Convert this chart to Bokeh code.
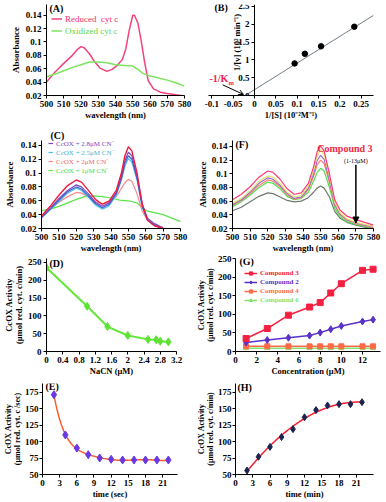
import numpy as np
from math import pi
from bokeh.plotting import figure
from bokeh.layouts import column, row
from bokeh.models import (Range1d, FixedTicker, Label, Legend, LegendItem, Arrow,
                          OpenHead, NormalHead, Title)
from bokeh.core.properties import value
from bokeh.embed import file_html
from bokeh.resources import INLINE

FONT = "Liberation Serif"

# ---------------- data ----------------
# (A) cytochrome c spectra
a_red_wl = [500, 505, 510, 515, 518, 520, 522, 525, 528, 531, 535, 538, 541, 544, 546, 548, 550, 551, 553, 555, 557, 559, 562, 566, 570, 575, 578]
a_red_abs = [0.040, 0.055, 0.068, 0.080, 0.089, 0.093, 0.091, 0.082, 0.070, 0.061, 0.056, 0.059, 0.065, 0.074, 0.090, 0.118, 0.140, 0.140, 0.128, 0.100, 0.068, 0.042, 0.030, 0.025, 0.023, 0.021, 0.020]
a_ox_wl = [500, 505, 510, 515, 520, 525, 530, 535, 540, 545, 550, 553, 556, 560, 565, 570, 575, 580]
a_ox_abs = [0.048, 0.052, 0.057, 0.062, 0.066, 0.070, 0.070, 0.069, 0.066, 0.065, 0.064, 0.059, 0.053, 0.049, 0.046, 0.043, 0.039, 0.034]

# (B) Lineweaver-Burk
b_inv_s = [0.094, 0.118, 0.156, 0.234]
b_inv_v = [0.90, 1.17, 1.38, 1.93]
b_fit_x = [-0.022, 0.279]
b_fit_y = [0.0, 2.25]

# (C) CcOX + cyanide spectra
c_wl = [500, 505, 510, 515, 520, 523, 527, 531, 535, 539, 543, 546, 548, 550, 552, 555, 558, 561, 565, 570]
c_red = [0.038, 0.052, 0.068, 0.082, 0.090, 0.087, 0.075, 0.062, 0.055, 0.060, 0.075, 0.100, 0.125, 0.138, 0.132, 0.100, 0.055, 0.032, 0.024, 0.020]
c_28 = [0.036, 0.049, 0.063, 0.075, 0.083, 0.080, 0.070, 0.058, 0.052, 0.057, 0.072, 0.095, 0.118, 0.130, 0.125, 0.095, 0.055, 0.035, 0.027, 0.021]
c_blue = [0.036, 0.048, 0.061, 0.073, 0.080, 0.077, 0.067, 0.056, 0.050, 0.055, 0.070, 0.092, 0.114, 0.125, 0.120, 0.092, 0.052, 0.033, 0.025, 0.020]
c_25 = [0.035, 0.047, 0.059, 0.071, 0.078, 0.075, 0.065, 0.054, 0.048, 0.053, 0.068, 0.090, 0.110, 0.121, 0.116, 0.090, 0.050, 0.032, 0.024, 0.020]
c_20 = [0.037, 0.048, 0.058, 0.066, 0.072, 0.071, 0.066, 0.059, 0.055, 0.058, 0.066, 0.078, 0.086, 0.091, 0.088, 0.070, 0.045, 0.032, 0.025, 0.021]
c1_wl = [500, 505, 510, 515, 520, 525, 530, 535, 540, 545, 550, 555, 558, 561, 565, 570, 575, 580]
c_10 = [0.046, 0.048, 0.052, 0.057, 0.062, 0.066, 0.067, 0.066, 0.064, 0.061, 0.060, 0.057, 0.050, 0.045, 0.043, 0.040, 0.035, 0.030]
c_labels = ["CcOX + 2.8\u03bcM CN\u207b", "CcOX + 2.5\u03bcM CN\u207b", "CcOX + 2\u03bcM CN\u207b", "CcOX + 1\u03bcM CN\u207b"]

# (D) NaCN inhibition
d_nacn = [0, 1, 1.5, 2, 2.5, 2.7, 2.8, 3]
d_act = [235, 127, 70, 45, 34, 33, 29, 27]

# (E) activity vs time (sec)
e_time = [2, 4, 6, 8, 10, 12, 14, 16, 18, 20, 22]
e_act = [171, 110, 90, 80, 75, 73, 72, 72, 72, 72, 72]

# (F) compound 3 spectra (1-13 uM)
f_wl = [500, 505, 510, 515, 520, 523, 527, 531, 535, 539, 543, 546, 548, 550, 552, 555, 558, 561, 565, 570, 575, 580]
f_s1 = [0.062, 0.070, 0.081, 0.095, 0.104, 0.102, 0.092, 0.078, 0.070, 0.072, 0.086, 0.110, 0.132, 0.141, 0.133, 0.100, 0.062, 0.047, 0.038, 0.033, 0.029, 0.025]
f_s2 = [0.057, 0.064, 0.075, 0.089, 0.097, 0.095, 0.086, 0.073, 0.066, 0.068, 0.082, 0.105, 0.126, 0.135, 0.128, 0.096, 0.058, 0.043, 0.034, 0.029, 0.026, 0.023]
f_s3 = [0.055, 0.062, 0.073, 0.086, 0.094, 0.092, 0.083, 0.071, 0.064, 0.066, 0.079, 0.100, 0.119, 0.127, 0.121, 0.091, 0.056, 0.041, 0.033, 0.028, 0.025, 0.022]
f_s4 = [0.054, 0.061, 0.071, 0.083, 0.091, 0.089, 0.081, 0.069, 0.063, 0.065, 0.077, 0.096, 0.113, 0.120, 0.115, 0.087, 0.054, 0.040, 0.032, 0.027, 0.024, 0.021]
f_s5 = [0.052, 0.059, 0.069, 0.080, 0.088, 0.086, 0.078, 0.067, 0.062, 0.064, 0.073, 0.089, 0.102, 0.108, 0.104, 0.080, 0.050, 0.037, 0.030, 0.026, 0.023, 0.020]
f_s6 = [0.046, 0.051, 0.059, 0.067, 0.072, 0.071, 0.066, 0.061, 0.059, 0.060, 0.065, 0.073, 0.079, 0.082, 0.079, 0.066, 0.045, 0.035, 0.029, 0.025, 0.022, 0.020]

# (G) activity vs concentration
g_conc = [1, 3, 5, 7, 8, 9, 10, 12, 13]
g_comp3 = [35, 62, 98, 120, 132, 158, 183, 219, 222]
g_comp2 = [24, 31, 37, 43, 51, 60, 69, 81, 86]
g_comp4 = [14, 14, 14, 14, 14, 14, 14, 14, 14]
g_comp6 = [9, 9, 9, 9, 9, 9, 9, 9, 9]

# (H) activity vs time (min)
h_time = [2, 4, 6, 8, 10, 12, 14, 16, 18, 20, 22]
h_act = [56, 77, 92, 107, 119, 137, 148, 155, 157, 157, 160]

# tick values and labels
wl_ticks = [500, 510, 520, 530, 540, 550, 560, 570, 580]
wl_labels = ["500", "510", "520", "530", "540", "550", "560", "570", "580"]
abs_ticks = [0.02, 0.04, 0.06, 0.08, 0.1, 0.12, 0.14]
abs_labels = ["0.02", "0.04", "0.06", "0.08", "0.1", "0.12", "0.14"]
b_xticks = [-0.1, -0.05, 0, 0.05, 0.1, 0.15, 0.2, 0.25]
b_xlabels = ["-0.1", "-0.05", "0", "0.05", "0.1", "0.15", "0.2", "0.25"]
b_yticks = [0, 0.5, 1, 1.5, 2, 2.5]
b_ylabels = ["0", "0.5", "1", "1.5", "2", "2.5"]
d_xticks = [0, 0.4, 0.8, 1.2, 1.6, 2, 2.4, 2.8, 3.2]
d_xlabels = ["0", "0.4", "0.8", "1.2", "1.6", "2", "2.4", "2.8", "3.2"]
act_ticks = [0, 50, 100, 150, 200, 250]
act_labels = ["0", "50", "100", "150", "200", "250"]
g_xticks = [0, 2, 4, 6, 8, 10, 12]
g_xlabels = ["0", "2", "4", "6", "8", "10", "12"]
t_ticks = [0, 3, 6, 9, 12, 15, 18, 21]
t_labels = ["0", "3", "6", "9", "12", "15", "18", "21"]
t_yticks = [50, 75, 100, 125, 150, 175]
t_ylabels = ["50", "75", "100", "125", "150", "175"]


# ---------------- helpers ----------------
def make_fig(w, h, l, r, t, b, xr, yr):
    p = figure(width=w, height=h, x_range=Range1d(*xr), y_range=Range1d(*yr),
               output_backend="svg", toolbar_location=None, title=None,
               min_border_left=l, min_border_right=r, min_border_top=t, min_border_bottom=b)
    p.outline_line_color = None
    p.xgrid.visible = False
    p.ygrid.visible = False
    return p, w - l - r, h - t - b


def style_axes(p, xt, xl, yt, yl, xlabel=None, ylabel=None, xstand=0, ystand=2, ylabel_size="8.5px"):
    for ax, ticks, labels in ((p.xaxis[0], xt, xl), (p.yaxis[0], yt, yl)):
        ax.ticker = FixedTicker(ticks=ticks, minor_ticks=[])
        ax.major_label_overrides = {tk: lb for tk, lb in zip(ticks, labels)}
        ax.major_label_text_font = FONT
        ax.major_label_text_font_style = "bold"
        ax.major_label_text_font_size = "9px"
        ax.major_label_text_color = "black"
        ax.axis_line_color = "black"
        ax.major_tick_line_color = "black"
        ax.major_tick_out = 3
        ax.major_tick_in = 0
        ax.minor_tick_line_color = None
        ax.major_label_standoff = 2
        ax.axis_label_text_font = FONT
        ax.axis_label_text_font_style = "bold"
        ax.axis_label_text_color = "black"
    if xlabel is not None:
        p.xaxis[0].axis_label = xlabel
        p.xaxis[0].axis_label_standoff = xstand
        p.xaxis[0].axis_label_text_font_size = "8.5px"
    if ylabel is not None:
        p.yaxis[0].axis_label = ylabel
        p.yaxis[0].axis_label_standoff = ystand
        p.yaxis[0].axis_label_text_font_size = ylabel_size
        p.yaxis[0].axis_label_text_line_height = 1.0


def txt(p, x, y, text, size="8.5px", color="black", angle=0.0, align="center",
        baseline="middle", style="bold", units="screen"):
    p.add_layout(Label(x=x, y=y, x_units=units, y_units=units, text=text, angle=angle,
                       text_align=align, text_baseline=baseline, text_font=FONT,
                       text_font_size=size, text_font_style=style, text_color=color))


def panel_title(p, fh, x, text):
    txt(p, x, fh, text, "10px", align="left", baseline="top")


def legend(p, renderers, label, color, x, y, size, glyph_w, style="normal", gh=8):
    p.add_layout(Legend(items=[LegendItem(label=value(label), renderers=renderers)],
                        location=(x, y), padding=0, margin=0, spacing=0,
                        border_line_color=None, background_fill_alpha=0,
                        label_text_font=FONT, label_text_font_size=size,
                        label_text_font_style=style, label_text_color=color,
                        glyph_width=glyph_w, glyph_height=gh, label_height=gh,
                        label_standoff=3))


W1, W2 = 193, 192

# ---------------- (A) ----------------
pA, fw, fh = make_fig(W1, 122, 46, 9, 4, 25, (500, 580), (0.02, 0.156))
style_axes(pA, wl_ticks, wl_labels, abs_ticks, abs_labels,
           xlabel="wavelength (nm)", ylabel="Absorbance", ystand=2, ylabel_size="9px")
rA1 = pA.line(a_red_wl, a_red_abs, line_color="#f4437a", line_width=1.5)
rA2 = pA.line(a_ox_wl, a_ox_abs, line_color="#7ee35e", line_width=1.5)
legend(pA, [rA1], "Reduced  cyt c", "#f4306a", 5, 71.5, "9px", 11, gh=9)
legend(pA, [rA2], "Oxidized cyt c", "#5fd640", 5, 59.5, "9px", 11, gh=9)
panel_title(pA, fh, 3, "(A)")

# ---------------- (B) ----------------
pB, fw, fh = make_fig(W2, 122, 15, 12, 3, 25, (-0.108, 0.279), (0, 2.554))
style_axes(pB, b_xticks, b_xlabels, b_yticks, b_ylabels, xlabel="1/[S] (10\u207b\u00b2M\u207b\u00b9)")
pB.yaxis.fixed_location = 0
pB.line(b_fit_x, b_fit_y, line_color="#6f7f86", line_width=1)
pB.scatter(b_inv_s, b_inv_v, marker="circle", size=5.5, color="black")
panel_title(pB, fh, 6, "(B)")
txt(pB, 28, fh - 41, "1/[v] (10\u00b2 min\u207b\u00b9)", "8.5px", angle=pi / 2)
txt(pB, 1, 17, "-1/K", "10px", color="#f2204e", align="left")
txt(pB, 20, 13.5, "m", "6.5px", color="#f2204e", align="left")
pB.add_layout(Arrow(end=OpenHead(size=5, line_color="black", line_width=1),
                    x_start=-0.075, y_start=0.30, x_end=-0.026, y_end=0.03,
                    line_color="black", line_width=1))

# ---------------- (C) ----------------
pC, fw, fh = make_fig(W1, 133, 41, 13, 18, 26, (500, 580), (0.02, 0.147))
style_axes(pC, wl_ticks, wl_labels, abs_ticks, abs_labels,
           xlabel="wavelength (nm)", ylabel="Absorbance", ystand=3, ylabel_size="9px")
rC10 = pC.line(c1_wl, c_10, line_color="#5be34a", line_width=1.2)
rC20 = pC.line(c_wl, c_20, line_color="#f58a8e", line_width=1.2)
rC25 = pC.line(c_wl, c_25, line_color="#4fc3e0", line_width=1.2)
pC.line(c_wl, c_blue, line_color="#3d5fcf", line_width=1.2)
rC28 = pC.line(c_wl, c_28, line_color="#7a46bd", line_width=1.2)
pC.line(c_wl, c_red, line_color="#ee1c40", line_width=1.4)
legend(pC, [rC28], c_labels[0], "#7a46bd", 7, 80.5, "7px", 5)
legend(pC, [rC25], c_labels[1], "#38b8d6", 7, 71.5, "7px", 5)
legend(pC, [rC20], c_labels[2], "#f26a60", 7, 62.5, "7px", 5)
legend(pC, [rC10], c_labels[3], "#45dc3c", 7, 53.5, "7px", 5)
pC.title = Title(text="(C)", align="left", offset=9, standoff=0, text_font=FONT,
                 text_font_size="10px", text_font_style="bold", text_color="black")

# ---------------- (F) ----------------
pF, fw, fh = make_fig(W2, 133, 39, 12, 16, 27, (500, 580), (0.02, 0.1486))
style_axes(pF, wl_ticks, wl_labels, abs_ticks, abs_labels,
           xlabel="wavelength (nm)", ylabel="Absorbance", ystand=1, ylabel_size="9px")
f_colors = ["#707a70", "#4fe34f", "#ff7f6e", "#9a68d6", "#e0e46a", "#ff3a78"]
for ys, col in zip([f_s6, f_s5, f_s4, f_s3, f_s2, f_s1], f_colors):
    pF.line(f_wl, ys, line_color=col, line_width=1.2)
txt(pF, 579.5, 0.137, "Compound 3", "10px", color="#ec2847", units="data", align="right")
txt(pF, 570, 0.1186, "(1-13\u03bcM)", "6px", units="data", style="normal")
pF.add_layout(Arrow(end=NormalHead(size=6, fill_color="black", line_color="black"),
                    x_start=570, y_start=0.113, x_end=570, y_end=0.028,
                    line_color="black", line_width=1.5))
panel_title(pF, fh, 3, "(F)")

# ---------------- (D) ----------------
pD, fw, fh = make_fig(W1, 123, 42, 17, 3, 26, (0, 3.2), (0, 261))
style_axes(pD, d_xticks, d_xlabels, act_ticks, act_labels, xlabel="NaCN (\u03bcM)",
           ylabel="CcOX Activity\n(\u03bcmol red. cyt. c/min)", ystand=1)
pD.line(d_nacn, d_act, line_color="#62e83a", line_width=2)
pD.scatter(d_nacn, d_act, marker="diamond", size=8, color="#5ee236")
panel_title(pD, fh, 3, "(D)")

# ---------------- (G) ----------------
pG, fw, fh = make_fig(W2, 123, 35, 5, 2, 25, (0, 13.7), (0, 251))
style_axes(pG, g_xticks, g_xlabels, act_ticks, act_labels, xlabel="Concentration (\u03bcM)",
           ylabel="CcOX Activity\n(\u03bcmol red. cyt. c/min)", ystand=0, ylabel_size="8px")
pG.yaxis[0].major_label_standoff = 1
g_specs = [(g_comp6, "#86e070", "triangle", 5, "Compound 6"),
           (g_comp4, "#ff6a48", "square", 5, "Compound 4"),
           (g_comp2, "#5a32c8", "diamond", 7, "Compound 2"),
           (g_comp3, "#f42040", "square", 6, "Compound 3")]
g_rend = {}
for ys, col, mk, sz, lab in g_specs:
    l1 = pG.line(g_conc, ys, line_color=col, line_width=1.5)
    s1 = pG.scatter(g_conc, ys, marker=mk, size=sz, color=col)
    g_rend[lab] = [l1, s1]
legend(pG, g_rend["Compound 3"], "Compound 3", "#f42040", 9, 74, "7px", 13, style="bold")
legend(pG, g_rend["Compound 2"], "Compound 2", "#5a32c8", 9, 65, "7px", 13, style="bold")
legend(pG, g_rend["Compound 4"], "Compound 4", "#ff6a48", 9, 56, "7px", 13, style="bold")
legend(pG, g_rend["Compound 6"], "Compound 6", "#86e070", 9, 47.5, "7px", 13, style="bold")
panel_title(pG, fh, 4, "(G)")

# ---------------- (E) ----------------
pE, fw, fh = make_fig(W1, 123, 40, 16, 5, 24, (0, 23.6), (50, 188))
style_axes(pE, t_ticks, t_labels, t_yticks, t_ylabels, xlabel="time (sec)",
           ylabel="CcOX Activity\n(\u03bcmol red. cyt. c /sec)", ystand=0, ylabel_size="8px")
pE.yaxis[0].major_label_standoff = 1
e_coef = np.polyfit(e_time, e_act, 6)
e_xs = np.linspace(min(e_time), max(e_time), 120)
pE.line(e_xs, np.polyval(e_coef, e_xs), line_color="#ff5a28", line_width=1.5)
pE.scatter(e_time, e_act, marker="diamond", size=8, color="#6a38e0")
panel_title(pE, fh, 3, "(E)")

# ---------------- (H) ----------------
pH, fw, fh = make_fig(W2, 123, 36, 12, 5, 25, (0, 24), (50, 188.4))
style_axes(pH, t_ticks, t_labels, t_yticks, t_ylabels, xlabel="time (min)",
           ylabel="CcOX Activity\n(\u03bcmol red. cyt. c/min)", ystand=0, ylabel_size="8px")
pH.yaxis[0].major_label_standoff = 1
h_coef = np.polyfit(h_time, h_act, 2)
h_xs = np.linspace(min(h_time), max(h_time), 120)
pH.line(h_xs, np.polyval(h_coef, h_xs), line_color="#f42030", line_width=1.5)
pH.scatter(h_time, h_act, marker="diamond", size=7, color="#1b2350")
panel_title(pH, fh, 2, "(H)")

layout = column(row(pA, pB), row(pC, pF), row(pD, pG), row(pE, pH))
open("out.html", "w").write(file_html(layout, INLINE))
